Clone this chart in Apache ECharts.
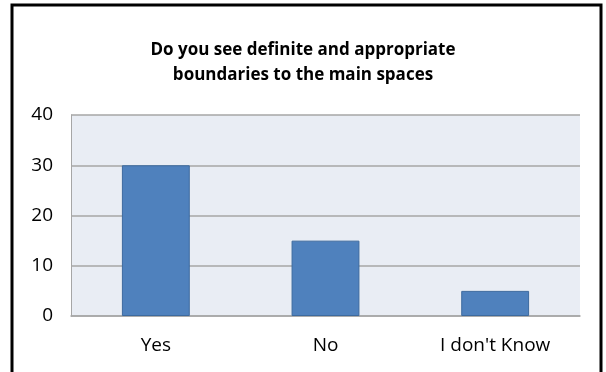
<!DOCTYPE html>
<html><head><meta charset="utf-8">
<script src="https://cdn.jsdelivr.net/npm/echarts@6/dist/echarts.min.js"></script>
<style>html,body{margin:0;padding:0;background:#fff}#c{width:606px;height:372px}</style>
</head><body><div id="c"></div>
<script>
const categories = ["Yes", "No", "I don't Know"];
const values = [30, 15, 5];
const yTicks = [0, 10, 20, 30, 40];
const titleText = "Do you see definite and appropriate\nboundaries to the main spaces";

const chart = echarts.init(document.getElementById('c'), null, {renderer: 'canvas'});
chart.setOption({
  backgroundColor: '#fff',
  animation: false,
  title: {
    text: titleText, left: 'center', top: 33,
    textStyle: {fontFamily: 'Open Sans', fontWeight: 'bold', fontSize: 17, color: '#000', lineHeight: 25}
  },
  graphic: [{
    type: 'rect', shape: {x: 12, y: 5, width: 589, height: 380},
    style: {fill: 'none', stroke: '#000', lineWidth: 3}, silent: true, z: 100
  }],
  grid: {left: 71, right: 26, top: 115, bottom: 56, show: true, backgroundColor: '#e9edf4', borderWidth: 0},
  xAxis: {
    type: 'category', data: categories,
    axisLine: {lineStyle: {color: '#a6a6a6', width: 1.5}},
    axisTick: {show: false},
    axisLabel: {fontFamily: 'Open Sans', fontSize: 19, color: '#000', margin: 20}
  },
  yAxis: {
    type: 'value', min: yTicks[0], max: yTicks[yTicks.length - 1], interval: 10,
    axisLine: {show: true, lineStyle: {color: '#a6a6a6', width: 1}},
    axisTick: {show: false},
    splitLine: {lineStyle: {color: '#a6a6a6', width: 1.5}},
    axisLabel: {fontFamily: 'Open Sans', fontSize: 19, color: '#000', margin: 18}
  },
  series: [{
    type: 'bar', data: values, barWidth: '40%',
    itemStyle: {color: '#4f81bd', borderColor: '#3d6a9e', borderWidth: 1}
  }]
});
</script></body></html>
